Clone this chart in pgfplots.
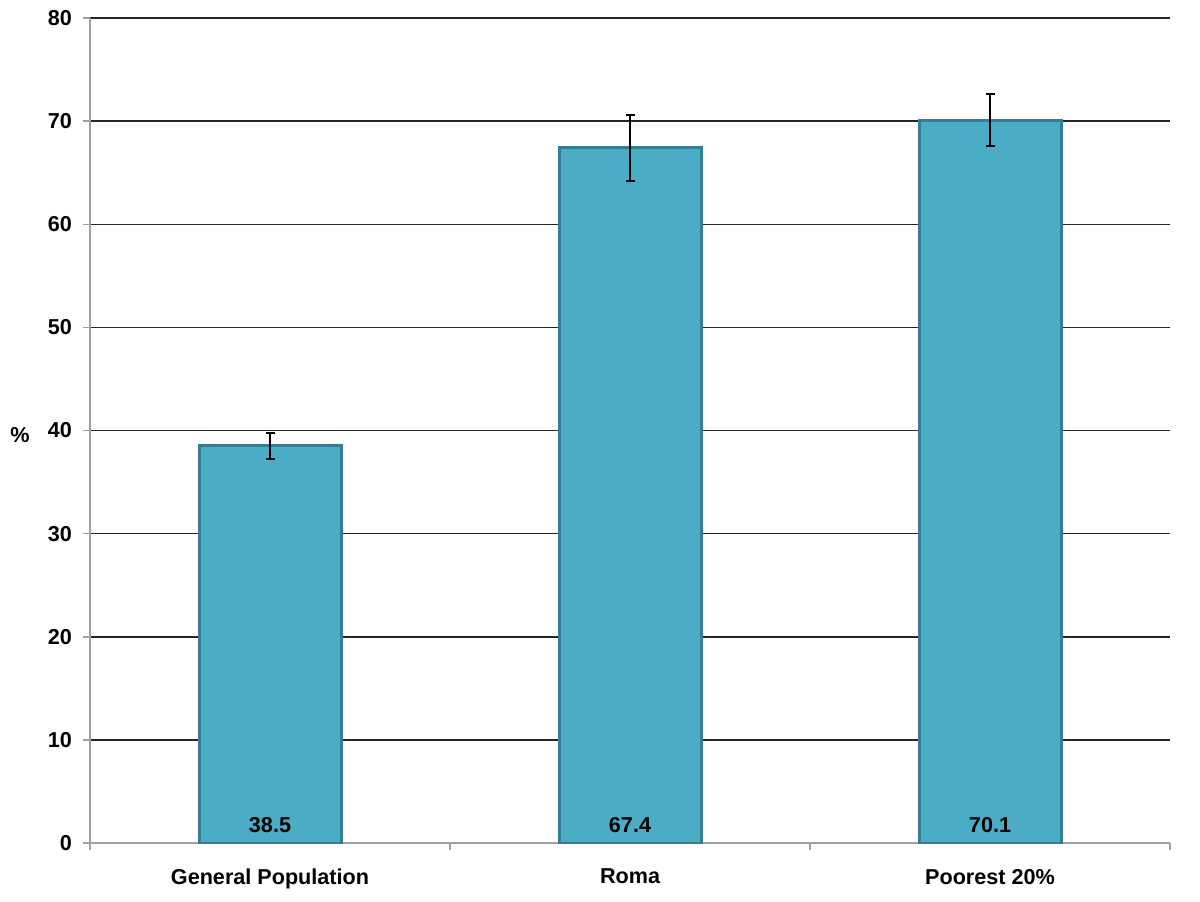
\documentclass[border=0pt]{standalone}
\usepackage{fontspec}
\setmainfont{Liberation Sans}
\usepackage{pgfplots}
\pgfplotsset{compat=1.18}
\definecolor{barfill}{HTML}{4BACC6}
\definecolor{baredge}{HTML}{357D93}
\definecolor{axisgray}{HTML}{A0A0A0}

\begin{document}
\begin{tikzpicture}
\begin{axis}[
  name=ax,
  scale only axis,
  width=540pt, height=412.5pt,
  ymin=0, ymax=80, ytick distance=10,
  xmin=-0.5, xmax=2.5,
  xtick={0,1,2},
  xticklabels={General Population,Roma,Poorest 20\%},
  minor xtick={-0.5,0.5,1.5,2.5},
  axis x line=bottom, axis y line=left,
  axis line style={-, draw=axisgray, line width=0.75pt},
  tick align=outside,
  major tick length=3.5pt, minor tick length=3.5pt,
  major x tick style={draw=none},
  minor x tick style={draw=axisgray, line width=0.75pt},
  y tick style={draw=axisgray, line width=0.75pt},
  ymajorgrids,
  major grid style={draw=black!85, line width=0.75pt},
  tick label style={font=\fontsize{10.8}{12}\selectfont\bfseries},
  /pgf/number format/assume math mode=true,
  xticklabel style={yshift=-6pt},
  yticklabel style={xshift=-2pt},
  every axis y label/.style={at={(rel axis cs:0,0.495)}, xshift=-35pt, anchor=center, font=\fontsize{10.8}{12}\selectfont\bfseries},
  ylabel={\%},
]
\addplot[ybar, bar width=71pt, fill=barfill, draw=baredge, line width=1.5pt,
  error bars/.cd, y dir=both, y explicit,
  error bar style={black, line width=1pt},
  error mark options={rotate=90, mark size=2.25pt, black, line width=1pt}]
  coordinates {(0,38.5) +- (0,1.26) (1,67.4) +- (0,3.2) (2,70.1) +- (0,2.52)};
\addplot[draw=none, mark=none, nodes near coords, point meta=explicit symbolic,
  every node near coord/.append style={anchor=center, font=\fontsize{10.8}{12}\selectfont\bfseries}]
  coordinates {(0,1.75) [38.5] (1,1.75) [67.4] (2,1.75) [70.1]};
\end{axis}
\path ([shift={(-45pt,-29pt)}]ax.south west) rectangle ([shift={(15pt,9pt)}]ax.north east);
\end{tikzpicture}
\end{document}
